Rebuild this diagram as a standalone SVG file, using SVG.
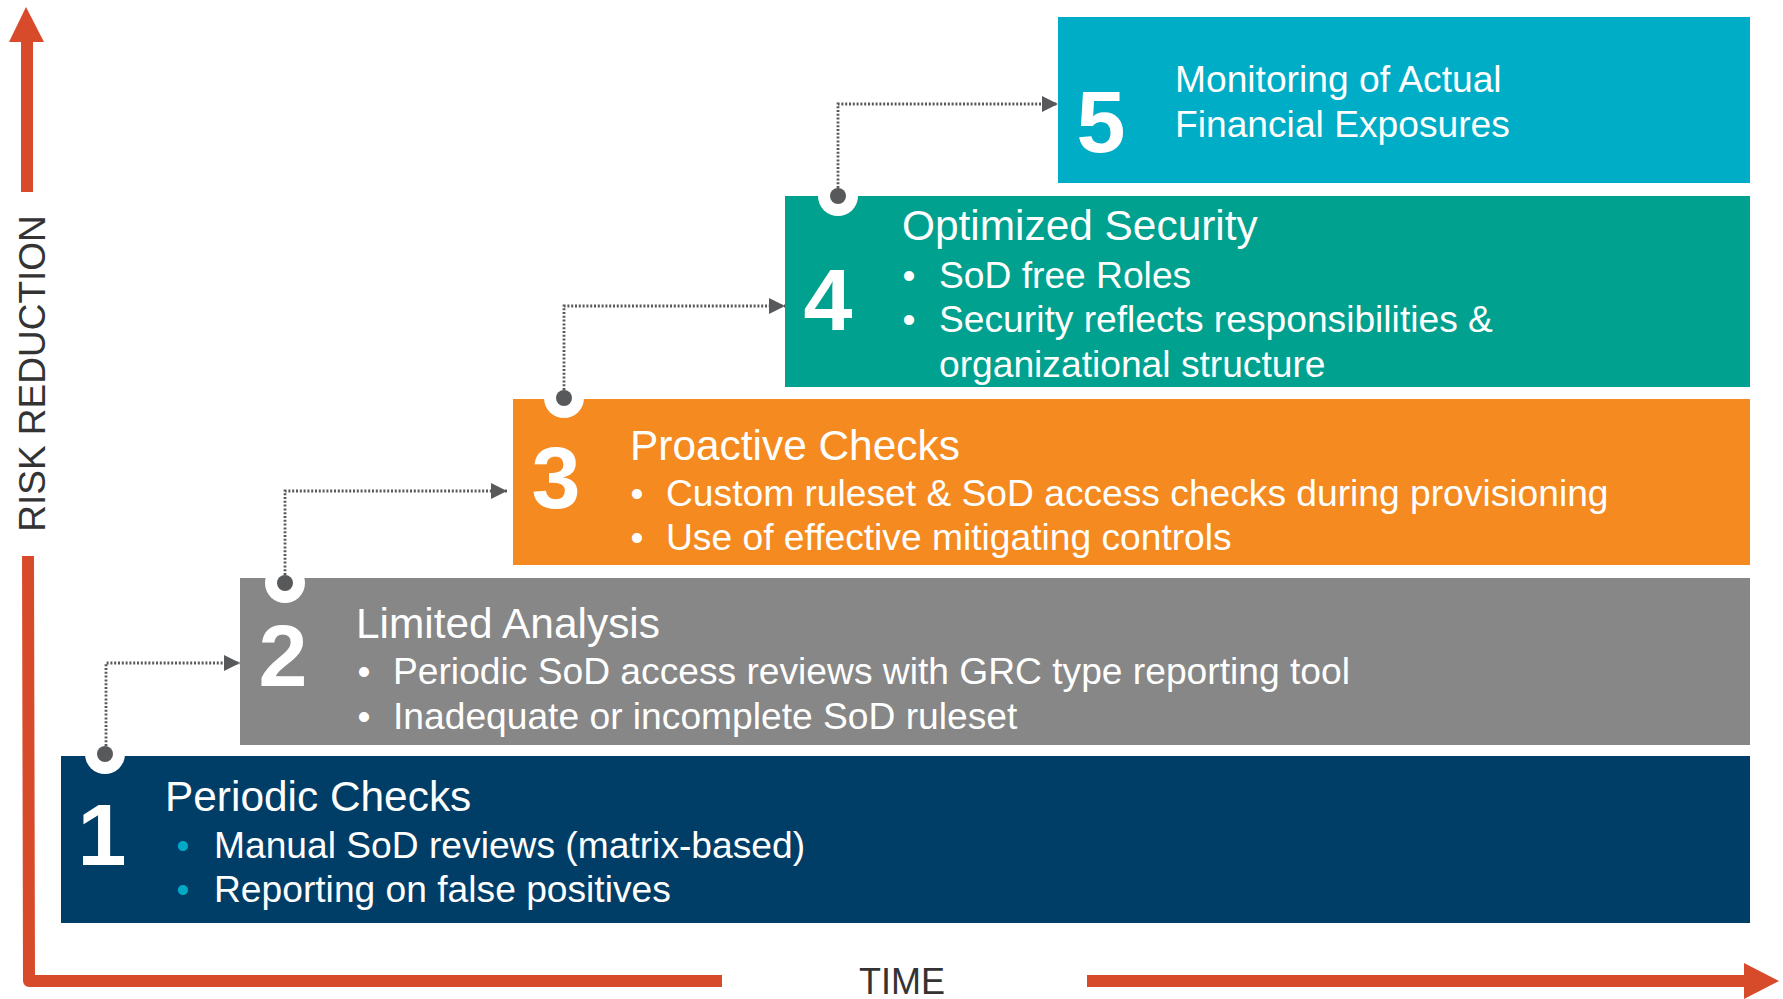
<svg xmlns="http://www.w3.org/2000/svg" width="1783" height="999" viewBox="0 0 1783 999">
<style>
text{font-family:"Liberation Sans",Arial,sans-serif}
.num{font-size:88px;font-weight:bold;fill:#fff;text-anchor:middle}
.ttl{font-size:42.4px;fill:#fff}
.bul{font-size:37.2px;fill:#fff}
.dotb{font-size:37px;fill:#fff;text-anchor:middle}
.ax{font-size:37px;fill:#333}
.conn{fill:none;stroke:#58595b;stroke-width:2.8;stroke-dasharray:2 1.8}
.notch{fill:#fff}
.pin{fill:#58595b}
.axis{fill:none;stroke:#d84b2a;stroke-width:12}
</style>
<defs>
<marker id="ah" viewBox="0 0 16 16" refX="16" refY="8" markerWidth="16" markerHeight="16" markerUnits="userSpaceOnUse" orient="auto">
<path d="M0,0 L16,8 L0,16 Z" fill="#58595b"/>
</marker>
</defs>

<g id="axes">
<path class="axis" d="M27,40 L27,192"/>
<path d="M26,7 L44,42 L9,42 Z" fill="#d84b2a"/>
<path class="axis" d="M28,556 L29,981 L722,981" stroke-linejoin="round"/>
<path class="axis" d="M1087,981 L1746,981"/>
<path d="M1779,981 L1744,963 L1744,999 Z" fill="#d84b2a"/>
<text class="ax" transform="translate(45,373.5) rotate(-90)" text-anchor="middle">RISK REDUCTION</text>
<text class="ax" x="902" y="994" text-anchor="middle" style="font-size:36px">TIME</text>
</g>

<g id="node5">
<rect x="1058" y="17" width="692" height="166" fill="#00adc6"/>
<text class="num" x="1101" y="152">5</text>
<text class="bul" x="1175" y="92">Monitoring of Actual</text>
<text class="bul" x="1175" y="137">Financial Exposures</text>
</g>

<g id="node4">
<rect x="785" y="196" width="965" height="191" fill="#00a18e"/>
<text class="num" x="828" y="330">4</text>
<text class="ttl" x="902" y="240">Optimized Security</text>
<text class="dotb" x="909" y="288">•</text>
<text class="bul" x="939" y="288">SoD free Roles</text>
<text class="dotb" x="909" y="332">•</text>
<text class="bul" x="939" y="332">Security reflects responsibilities &amp;</text>
<text class="bul" x="939" y="377">organizational structure</text>
</g>

<g id="node3">
<rect x="513" y="399" width="1237" height="166" fill="#f58a20"/>
<text class="num" x="556" y="508">3</text>
<text class="ttl" x="630" y="460">Proactive Checks</text>
<text class="dotb" x="637" y="506">•</text>
<text class="bul" x="666" y="506">Custom ruleset &amp; SoD access checks during provisioning</text>
<text class="dotb" x="637" y="550">•</text>
<text class="bul" x="666" y="550">Use of effective mitigating controls</text>
</g>

<g id="node2">
<rect x="240" y="578" width="1510" height="167" fill="#878787"/>
<text class="num" x="283" y="686">2</text>
<text class="ttl" x="356" y="638">Limited Analysis</text>
<text class="dotb" x="364" y="684">•</text>
<text class="bul" x="393" y="684">Periodic SoD access reviews with GRC type reporting tool</text>
<text class="dotb" x="364" y="729">•</text>
<text class="bul" x="393" y="729">Inadequate or incomplete SoD ruleset</text>
</g>

<g id="node1">
<rect x="61" y="756" width="1689" height="167" fill="#003e68"/>
<text class="num" x="102" y="865">1</text>
<text class="ttl" x="165" y="811">Periodic Checks</text>
<text class="dotb" x="183" y="858" style="fill:#00a9c4">•</text>
<text class="bul" x="214" y="858">Manual SoD reviews (matrix-based)</text>
<text class="dotb" x="183" y="902" style="fill:#00a9c4">•</text>
<text class="bul" x="214" y="902">Reporting on false positives</text>
</g>

<g id="connectors">
<circle class="notch" cx="105" cy="754" r="20"/>
<circle class="notch" cx="285" cy="583" r="20"/>
<circle class="notch" cx="564" cy="398" r="20"/>
<circle class="notch" cx="838" cy="196" r="20"/>
<path class="conn" d="M106,746 L106,663 L240,663" marker-end="url(#ah)"/>
<path class="conn" d="M285,575 L285,491 L507,491" marker-end="url(#ah)"/>
<path class="conn" d="M564,390 L564,306 L785,306" marker-end="url(#ah)"/>
<path class="conn" d="M838,188 L838,104 L1058,104" marker-end="url(#ah)"/>
<circle class="pin" cx="105" cy="754" r="8"/>
<circle class="pin" cx="285" cy="583" r="8"/>
<circle class="pin" cx="564" cy="398" r="8"/>
<circle class="pin" cx="838" cy="196" r="8"/>
</g>
</svg>
